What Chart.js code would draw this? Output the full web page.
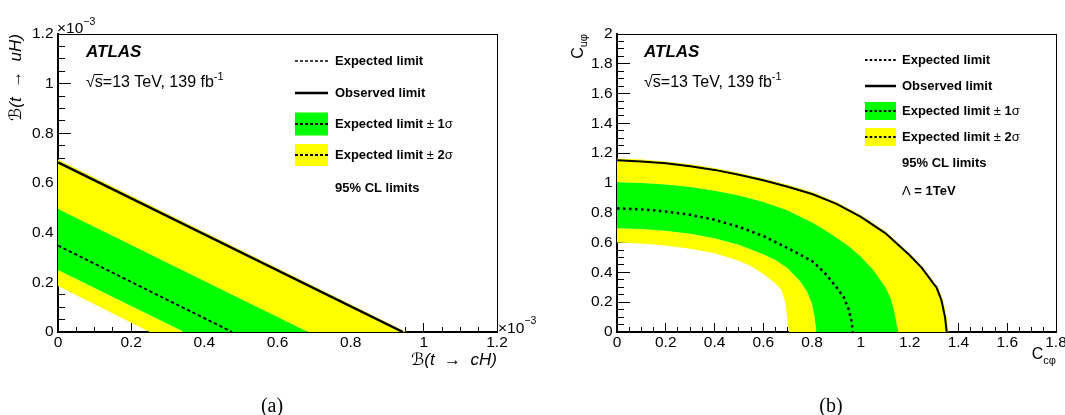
<!DOCTYPE html>
<html>
<head>
<meta charset="utf-8">
<script src="https://cdn.jsdelivr.net/npm/chart.js@4.4.1/dist/chart.umd.min.js"></script>
<style>
  body { margin: 0; background: #fff; }
  #page { position: relative; width: 1065px; height: 415px; overflow: hidden; }
  .panel { position: absolute; top: 0; }
  .cap { position: absolute; top: 394px; line-height: 20px; font: 20px "Liberation Serif", serif; color: #000; transform: translateX(-50%); }
</style>
</head>
<body>
<div id="page">
  <div class="panel" style="left:0"><canvas id="chartA" width="545" height="415"></canvas></div>
  <div class="panel" style="left:532px"><canvas id="chartB" width="545" height="415"></canvas></div>
  <div class="cap" style="left:272px">(a)</div>
  <div class="cap" style="left:831px">(b)</div>
</div>
<script>
const SANS = '"Liberation Sans", "DejaVu Sans", Arial, sans-serif';

// ---- panel (a): branching ratios, units of 1e-3 ----
const xTicksA = [0, 0.2, 0.4, 0.6, 0.8, 1, 1.2];
const yTicksA = [0, 0.2, 0.4, 0.6, 0.8, 1, 1.2];
const xLabelsA = ['0', '0.2', '0.4', '0.6', '0.8', '1', '1.2'];
const yLabelsA = ['0', '0.2', '0.4', '0.6', '0.8', '1', '1.2'];
// [B(t->cH), B(t->uH)]
const yellowUpA  = [[0, 0.695], [0.952, 0]];
const observedA  = [[0, 0.683], [0.943, 0]];
const greenUpA   = [[0, 0.495], [0.683, 0]];
const expectedA  = [[0, 0.348], [0.476, 0]];
const greenLowA  = [[0, 0.25], [0.345, 0]];
const yellowLowA = [[0, 0.185], [0.251, 0]];

// ---- panel (b): Wilson coefficients ----
const xTicksB = [0, 0.2, 0.4, 0.6, 0.8, 1, 1.2, 1.4, 1.6, 1.8];
const yTicksB = [0, 0.2, 0.4, 0.6, 0.8, 1, 1.2, 1.4, 1.6, 1.8, 2];
const xLabelsB = ['0', '0.2', '0.4', '0.6', '0.8', '1', '1.2', '1.4', '1.6', '1.8'];
const yLabelsB = ['0', '0.2', '0.4', '0.6', '0.8', '1', '1.2', '1.4', '1.6', '1.8', '2'];
// [C_cphi, C_uphi]
const yellowUpB = [[0, 1.165], [0.1, 1.158], [0.2, 1.145], [0.3, 1.126], [0.4, 1.101], [0.5, 1.069], [0.6, 1.031],
  [0.7, 0.988], [0.8, 0.939], [0.9, 0.873], [1.0, 0.785], [1.1, 0.676], [1.2, 0.527], [1.25, 0.443], [1.3, 0.335],
  [1.316, 0.3], [1.337, 0.215], [1.352, 0.1], [1.359, 0]];
const observedB = [[0, 1.152], [0.1, 1.145], [0.2, 1.132], [0.3, 1.113], [0.4, 1.088], [0.5, 1.056], [0.6, 1.018],
  [0.7, 0.975], [0.8, 0.926], [0.9, 0.86], [1.0, 0.772], [1.1, 0.664], [1.2, 0.515], [1.25, 0.43], [1.3, 0.32],
  [1.31, 0.3], [1.33, 0.215], [1.345, 0.1], [1.352, 0]];
const greenUpB = [[0, 1.005], [0.1, 1.0], [0.2, 0.99], [0.3, 0.973], [0.4, 0.948], [0.5, 0.916], [0.6, 0.873],
  [0.7, 0.815], [0.8, 0.735], [0.85, 0.686], [0.9, 0.633], [0.95, 0.575], [1.0, 0.505], [1.05, 0.418], [1.1, 0.3],
  [1.12, 0.235], [1.135, 0.15], [1.145, 0.07], [1.151, 0]];
const expectedB = [[0, 0.83], [0.1, 0.823], [0.2, 0.809], [0.3, 0.787], [0.4, 0.753], [0.5, 0.706], [0.6, 0.644],
  [0.7, 0.563], [0.75, 0.52], [0.8, 0.476], [0.85, 0.4], [0.9, 0.3], [0.93, 0.232], [0.95, 0.15], [0.962, 0.07],
  [0.967, 0]];
const greenLowB = [[0, 0.696], [0.1, 0.691], [0.2, 0.679], [0.3, 0.659], [0.4, 0.63], [0.5, 0.585], [0.6, 0.522],
  [0.65, 0.483], [0.7, 0.428], [0.75, 0.343], [0.78, 0.27], [0.8, 0.19], [0.81, 0.1], [0.818, 0]];
const yellowLowB = [[0, 0.6], [0.1, 0.594], [0.2, 0.581], [0.3, 0.559], [0.4, 0.529], [0.5, 0.478], [0.55, 0.441],
  [0.6, 0.39], [0.65, 0.325], [0.675, 0.282], [0.69, 0.2], [0.696, 0.12], [0.7, 0.06], [0.706, 0]];

const GREEN = '#00ff00';
const YELLOW = '#ffff00';

function pts(list) { return list.map(p => ({x: p[0], y: p[1]})); }
// closed region between an outer and an inner contour
function band(outer, inner) { return pts(outer.concat(inner.slice().reverse())); }
// major ticks plus 3 minor ticks in each interval
function withMinor(major) {
  const out = [];
  for (let i = 0; i < major.length - 1; i++)
    for (let k = 0; k < 4; k++) out.push(major[i] + (major[i + 1] - major[i]) * k / 4);
  out.push(major[major.length - 1]);
  return out;
}

function axis(pos, major, labels, len, minorDash, pad, size) {
  return {
    type: 'linear', position: pos, min: major[0], max: major[major.length - 1], z: 1,
    afterBuildTicks: s => { s.ticks = withMinor(major).map(v => ({value: v})); },
    afterFit: s => { if (s.isHorizontal()) s.height = size; else s.width = size; },
    ticks: {
      autoSkip: false, maxRotation: 0, minRotation: 0, padding: pad, color: '#000',
      font: {family: SANS, size: 15.5},
      callback: (v, i) => i % 4 === 0 ? labels[i / 4] : ''
    },
    grid: {
      drawOnChartArea: false, tickLength: -len, tickColor: '#000', tickWidth: 1,
      tickBorderDash: c => c.index % 4 ? minorDash : []
    },
    border: {color: '#000', width: 2}
  };
}

function frame(pos) {
  return {
    type: 'linear', position: pos, min: 0, max: 1, z: 1,
    afterFit: s => { if (s.isHorizontal()) s.height = 0; else s.width = 0; },
    ticks: {display: false},
    grid: {drawOnChartArea: false, drawTicks: false},
    border: {color: '#000', width: 1}
  };
}

function lineSet(list, width, dash) {
  return {data: pts(list), borderColor: '#000', borderWidth: width, borderDash: dash,
    pointRadius: 0, fill: false, tension: 0, order: 0};
}
function bandSet(outer, inner, color) {
  return {data: band(outer, inner), backgroundColor: color, borderWidth: 0,
    pointRadius: 0, fill: 'shape', tension: 0, order: 5};
}

function txt(ctx, s, x, y, font, align, base) {
  ctx.font = font;
  ctx.textAlign = align || 'left';
  ctx.textBaseline = base || 'alphabetic';
  ctx.fillStyle = '#000';
  ctx.fillText(s, x, y);
  return ctx.measureText(s).width;
}

function header(ctx, x) {
  txt(ctx, 'ATLAS', x, 57, 'italic bold 17px ' + SANS);
  const f = '16px ' + SANS;
  let w = txt(ctx, '\u221A', x, 87, f);
  const ws = txt(ctx, 's', x + w, 87, f);
  ctx.beginPath();
  ctx.moveTo(x + w - 0.5, 74.5);
  ctx.lineTo(x + w + ws, 74.5);
  ctx.lineWidth = 1;
  ctx.strokeStyle = '#000';
  ctx.stroke();
  w += ws;
  w += txt(ctx, '=13 TeV, 139 fb', x + w, 87, f);
  txt(ctx, '-1', x + w, 80, '11px ' + SANS);
}

// rich text: list of [text, bold]
function rich(ctx, parts, x, y) {
  for (const [s, b] of parts) x += txt(ctx, s, x, y, (b ? 'bold ' : '') + '13px ' + SANS, 'left', 'middle');
}

function legend(ctx, a, rows, sx, sw, tx) {
  for (const r of rows) {
    const y = a.top + r.y;
    if (r.box) {
      ctx.fillStyle = r.box;
      ctx.fillRect(a.left + sx, y - r.h / 2, sw, r.h);
    }
    if (r.line) {
      ctx.save();
      ctx.beginPath();
      ctx.setLineDash(r.line.dash);
      ctx.lineWidth = r.line.width;
      ctx.strokeStyle = '#000';
      ctx.moveTo(a.left + sx, y);
      ctx.lineTo(a.left + sx + sw, y);
      ctx.stroke();
      ctx.restore();
    }
    rich(ctx, r.text, a.left + tx, y);
  }
}

const sig1 = [['Expected limit ', true], ['\u00B1', false], [' 1', true], ['\u03C3', false]];
const sig2 = [['Expected limit ', true], ['\u00B1', false], [' 2', true], ['\u03C3', false]];

const notesA = {
  id: 'notesA',
  afterDraw(chart) {
    const c = chart.ctx, a = chart.chartArea;
    header(c, a.left + 28);
    const w1 = txt(c, '\u00D710', a.left - 1, 33, '15.5px ' + SANS);
    txt(c, '\u22123', a.left - 1 + w1, 25, '10.5px ' + SANS);
    const w2 = txt(c, '\u00D710', a.right + 1, 333, '15.5px ' + SANS);
    txt(c, '\u22123', a.right + 1 + w2, 324, '10.5px ' + SANS);
    legend(c, a, [
      {y: 27, text: [['Expected limit', true]], line: {dash: [3, 2], width: 1.5}},
      {y: 59, text: [['Observed limit', true]], line: {dash: [], width: 2.5}},
      {y: 90, text: sig1, box: GREEN, h: 23, line: {dash: [3, 2], width: 2}},
      {y: 121, text: sig2, box: YELLOW, h: 22, line: {dash: [3, 2], width: 2}},
      {y: 154, text: [['95% CL limits', true]]}
    ], 237, 33, 277);
  }
};

const notesB = {
  id: 'notesB',
  afterDraw(chart) {
    const c = chart.ctx, a = chart.chartArea;
    header(c, a.left + 27);
    // y title C_{u phi}, rotated
    c.save();
    c.translate(a.left - 34, a.top);
    c.rotate(-Math.PI / 2);
    c.font = '16px ' + SANS;
    const wC = c.measureText('C').width;
    c.font = '11px ' + SANS;
    const wS = c.measureText('u\u03C6').width;
    txt(c, 'C', -(wC + wS), 0, '16px ' + SANS);
    txt(c, 'u\u03C6', -wS, 4, '11px ' + SANS);
    c.restore();
    // x title C_{c phi}
    const wX = txt(c, 'c\u03C6', a.right, 364, '11px ' + SANS, 'right');
    txt(c, 'C', a.right - wX, 359, '16px ' + SANS, 'right');
    legend(c, a, [
      {y: 26, text: [['Expected limit', true]], line: {dash: [2.5, 2.2], width: 2}},
      {y: 52, text: [['Observed limit', true]], line: {dash: [], width: 2.5}},
      {y: 77, text: sig1, box: GREEN, h: 18, line: {dash: [2.5, 2.2], width: 2}},
      {y: 103, text: sig2, box: YELLOW, h: 18, line: {dash: [2.5, 2.2], width: 2}},
      {y: 129, text: [['95% CL limits', true]]},
      {y: 157, text: [['\u039B', false], [' = 1TeV', true]]}
    ], 248, 31, 285);
  }
};

const base = {
  responsive: false, animation: false, events: [],
  plugins: {legend: {display: false}, tooltip: {enabled: false}}
};

const scalesA = {
  x: axis('bottom', xTicksA, xLabelsA, 9, [6, 100], 10, 83),
  y: axis('left', yTicksA, yLabelsA, 13, [0, 6, 10, 100], 17.5, 58),
  x2: frame('top'),
  y2: frame('right')
};
scalesA.x.title = {display: true, text: '\u212C(t  \u2192  cH)', align: 'end', color: '#000',
  font: {family: SANS, size: 17, style: 'italic'}, padding: {top: 0, bottom: 45}};
scalesA.y.title = {display: true, text: '\u212C(t  \u2192  uH)', align: 'end', color: '#000',
  font: {family: SANS, size: 17, style: 'italic'}, padding: {top: 6, bottom: 0}};

new Chart(document.getElementById('chartA'), {
  type: 'line',
  data: {datasets: [
    lineSet(observedA, 2.5, []),
    lineSet(expectedA, 1.8, [3.5, 2.5]),
    bandSet(greenUpA, greenLowA, GREEN),
    bandSet(yellowUpA, greenUpA, YELLOW),
    bandSet(greenLowA, yellowLowA, YELLOW)
  ]},
  options: Object.assign({}, base, {
    layout: {autoPadding: false, padding: {left: 0, right: 48, top: 34, bottom: 0}},
    scales: scalesA
  }),
  plugins: [notesA]
});

new Chart(document.getElementById('chartB'), {
  type: 'line',
  data: {datasets: [
    lineSet(observedB, 2, []),
    lineSet(expectedB, 2.5, [2.5, 3.5]),
    bandSet(greenUpB, greenLowB, GREEN),
    bandSet(yellowUpB, greenUpB, YELLOW),
    bandSet(greenLowB, yellowLowB, YELLOW)
  ]},
  options: Object.assign({}, base, {
    layout: {autoPadding: false, padding: {left: 0, right: 21, top: 34, bottom: 0}},
    scales: {
      x: axis('bottom', xTicksB, xLabelsB, 9, [6, 100], 10, 83),
      y: axis('left', yTicksB, yLabelsB, 13, [0, 6, 10, 100], 17.5, 85),
      x2: frame('top'),
      y2: frame('right')
    }
  }),
  plugins: [notesB]
});
</script>
</body>
</html>
